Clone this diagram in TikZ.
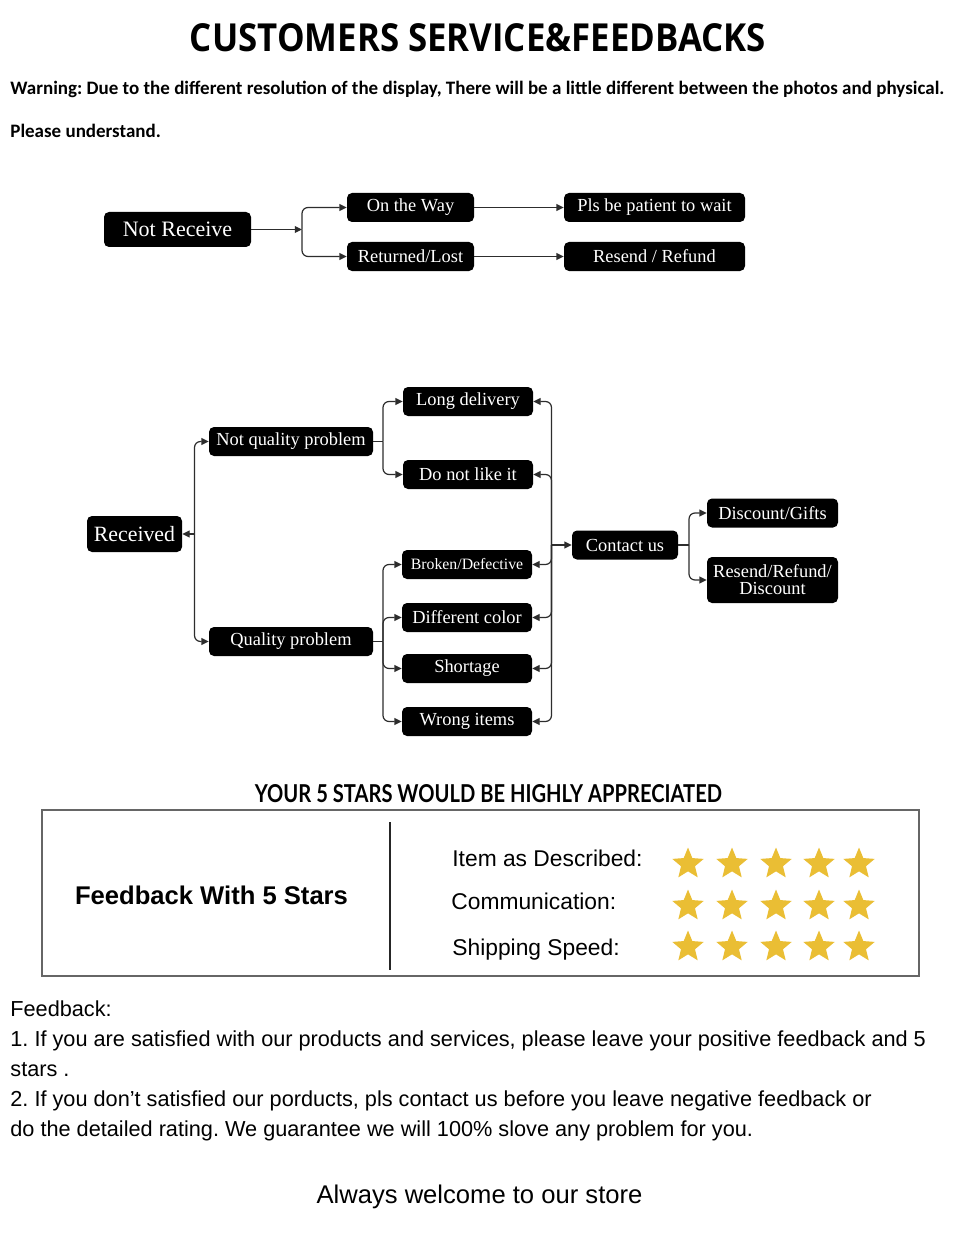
\documentclass[tikz,border=0pt]{standalone}
\usepackage{graphicx}
\usepackage{fontspec}
\setmainfont{Liberation Serif}
\newfontfamily\headfont{Open Sans}
\newfontfamily\warnfont{Carlito}
\newfontfamily\capsfont{Lato}
\newfontfamily\plainfont{Liberation Sans}
\usepackage{tikz}
\usetikzlibrary{arrows.meta,positioning,shapes.geometric}
\definecolor{stargold}{RGB}{234,190,52}
\definecolor{linegray}{RGB}{45,45,45}
\frenchspacing

\begin{document}
\begin{tikzpicture}[x=0.5pt,y=-0.5pt,
  tag/.style={fill=black, text=white, rounded corners=2.5pt, inner sep=0pt,
    minimum height=14.5pt, font=\fontsize{9.2pt}{10pt}\selectfont},
  link/.style={draw=linegray, line width=0.6pt, rounded corners=3pt},
  fwd/.style={-{Triangle[length=3.6pt,width=3.4pt,sharp]}},
  bwd/.style={{Triangle[length=3.6pt,width=3.4pt,sharp]}-},
  goldstar/.style={star, star points=5, star point ratio=2.25, fill=stargold,
    inner sep=0pt, minimum size=16.5pt},
  rowtext/.style={anchor=base west, inner sep=0pt, font=\plainfont\fontsize{11.4pt}{13pt}\selectfont},
  notetext/.style={anchor=base west, inner sep=0pt, font=\plainfont\fontsize{10.85pt}{12pt}\selectfont},
]
\fill[white] (0,0) rectangle (960,1241);
\useasboundingbox (0,0) rectangle (960,1241);

% heading
\node[anchor=base, inner sep=0pt] (title) at (478,52)
  {\resizebox{288pt}{14pt}{\headfont\bfseries CUSTOMERS SERVICE\&FEEDBACKS}};
\node[anchor=base west, inner sep=0pt, font=\warnfont\bfseries\fontsize{9.5pt}{11pt}\selectfont] (warn) at (10,95)
  {Warning: Due to the different resolution of the display, There will be a little different between the photos and physical.};
\node[anchor=base west, inner sep=0pt, font=\warnfont\bfseries\fontsize{9.5pt}{11pt}\selectfont] (please) at (10,138)
  {Please understand.};

% not received
\node[tag, minimum width=73.5pt, minimum height=17.5pt, font=\fontsize{11pt}{12pt}\selectfont] (nr) at (177.5,229.5) {Not Receive};
\node[tag, minimum width=63.5pt] (otw) at (410.5,207.5) {On the Way};
\node[tag, minimum width=63.5pt] (rl) at (410.5,256.5) {Returned/Lost};
\node[tag, minimum width=90.5pt] (wait) at (654.5,207.5) {Pls be patient to wait};
\node[tag, minimum width=90.5pt] (rr) at (654.5,256.5) {Resend / Refund};
\coordinate (f1) at (302,229.5);

\draw[link,fwd] (nr.east) -- (f1);
\draw[link,fwd] (f1) |- (otw.west);
\draw[link,fwd] (f1) |- (rl.west);
\draw[link,fwd] (otw.east) -- (wait.west);
\draw[link,fwd] (rl.east) -- (rr.west);

% received
\node[tag, minimum width=47.5pt, minimum height=18pt, font=\fontsize{10.9pt}{12pt}\selectfont] (rec) at (134.5,534) {Received};
\node[tag, minimum width=82pt] (nqp) at (291,441.5) {Not quality problem};
\node[tag, minimum width=82pt] (qp) at (291,641.5) {Quality problem};
\node[tag, minimum width=65pt] (ld) at (468,401.5) {Long delivery};
\node[tag, minimum width=65pt] (dnl) at (468,474.5) {Do not like it};
\node[tag, minimum width=65pt, font=\fontsize{7.9pt}{9pt}\selectfont] (bd) at (467,564.5) {Broken/Defective};
\node[tag, minimum width=65pt] (dc) at (467,617.5) {Different color};
\node[tag, minimum width=65pt] (sh) at (467,668.5) {Shortage};
\node[tag, minimum width=65pt] (wi) at (467,721.5) {Wrong items};
\node[tag, minimum width=53pt] (cu) at (625,545) {Contact us};
\node[tag, minimum width=65.5pt] (dg) at (772.5,513) {Discount/Gifts};
\node[tag, minimum width=65.5pt, minimum height=23pt, align=center, font=\fontsize{9.2pt}{8.6pt}\selectfont] (rrd) at (772.5,580) {Resend/Refund/\\Discount};
\coordinate (f2) at (194.5,534);
\coordinate (f3) at (383,441.5);
\coordinate (f4) at (383,641.5);
\coordinate (f5) at (551.5,545);
\coordinate (f6) at (689,545);

\draw[link,bwd] (rec.east) -- (f2);
\draw[link,fwd] (f2) |- (nqp.west);
\draw[link,fwd] (f2) |- (qp.west);
\draw[link] (nqp.east) -- (f3);
\foreach \n in {ld,dnl}
  \draw[link,fwd] (f3) |- (\n.west);
\draw[link] (qp.east) -- (f4);
\foreach \n in {bd,dc,sh,wi}
  \draw[link,fwd] (f4) |- (\n.west);
\foreach \n in {ld,dnl,bd,dc,sh,wi}
  \draw[link,bwd] (\n.east) -| (f5);
\draw[link,fwd] (f5) -- (cu.west);
\draw[link] (cu.east) -- (f6);
\foreach \n in {dg,rrd}
  \draw[link,fwd] (f6) |- (\n.west);

% rating panel
\node[anchor=base, inner sep=0pt] (appr) at (488.5,802)
  {\resizebox{233.5pt}{9pt}{\capsfont\bfseries YOUR 5 STARS WOULD BE HIGHLY APPRECIATED}};
\draw[draw=black!60, line width=0.75pt] (42,810) rectangle (919,976);
\draw[draw=black!85, line width=0.7pt] (390,822) -- (390,970);
\node[anchor=base, inner sep=0pt, font=\plainfont\bfseries\fontsize{12.8pt}{14pt}\selectfont] (fb5) at (211.5,904) {Feedback With 5 Stars};
\node[rowtext] (item) at (452,866) {Item as Described:};
\node[rowtext] (comm) at (451,909) {Communication:};
\node[rowtext] (ship) at (452,955) {Shipping Speed:};
\foreach \y [count=\r] in {864,906,947}
  \foreach \x [count=\c] in {688,732,776,819,859}
    \node[goldstar] (s\r\c) at (\x,\y) {};

% notes
\node[notetext] (n0) at (10,1016) {Feedback:};
\node[notetext] (n1) at (10,1046) {1. If you are satisfied with our products and services, please leave your positive feedback and 5};
\node[notetext] (n2) at (10,1076) {stars .};
\node[notetext] (n3) at (10,1106) {2. If you don’t satisfied our porducts, pls contact us before you leave negative feedback or};
\node[notetext] (n4) at (10,1136) {do the detailed rating. We guarantee we will 100\% slove any problem for you.};
\node[anchor=base, inner sep=0pt, font=\plainfont\fontsize{12.8pt}{14pt}\selectfont] (bye) at (479.5,1203) {Always welcome to our store};
\end{tikzpicture}
\end{document}
